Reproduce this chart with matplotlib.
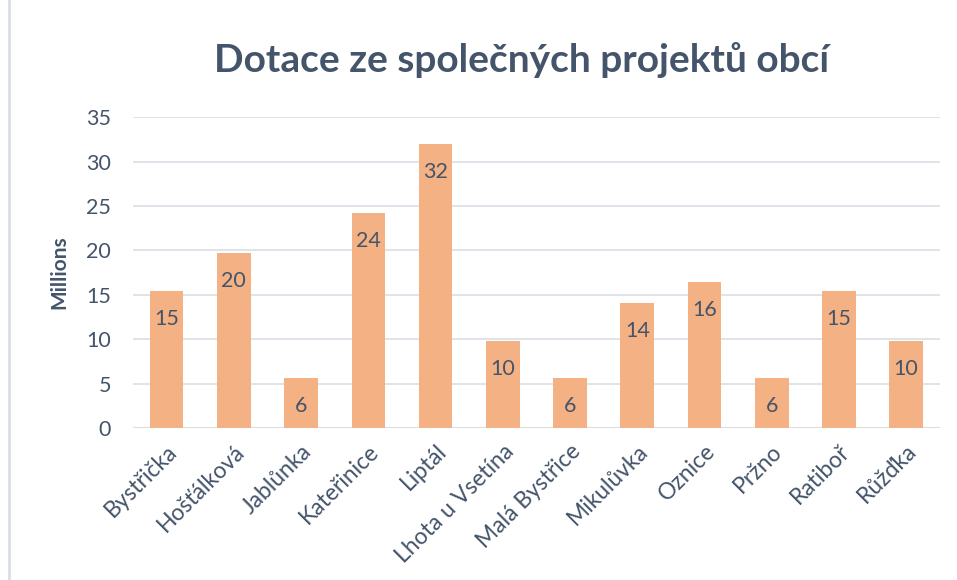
import numpy as np
import matplotlib.pyplot as plt
from matplotlib.patches import Rectangle

plt.rcParams['font.family'] = ['Lato', 'DejaVu Sans']

obce = ['Bystřička', 'Hošťálková', 'Jablůnka', 'Kateřinice', 'Liptál',
        'Lhota u Vsetína', 'Malá Bystřice', 'Mikulůvka', 'Oznice', 'Pržno',
        'Ratiboř', 'Růžďka']
dotace = [15.4, 19.7, 5.6, 24.2, 32.0, 9.8, 5.6, 14.1, 16.4, 5.6, 15.4, 9.8]
popisky = ['15', '20', '6', '24', '32', '10', '6', '14', '16', '6', '15', '10']

barva = '#F4B183'
text = '#44546A'

fig = plt.figure(figsize=(9.57, 5.8), dpi=100)
ax = fig.add_axes([0.139, 0.262, 0.843, 0.536])

x = np.arange(len(obce))
ax.bar(x, dotace, width=0.5, color=barva, zorder=2)

for xi, v, s in zip(x, dotace, popisky):
    ax.annotate(s, (xi, v), xytext=(0, -20), textcoords='offset points',
                ha='center', va='center', fontsize=15.5, color=text, zorder=3)

ax.set_ylim(0, 35)
ax.set_xlim(-0.5, len(obce) - 0.5)
ax.set_yticks(range(0, 36, 5))
ax.yaxis.grid(True, color='#D9DEE6', linewidth=1.2, zorder=0)
for s in ax.spines.values():
    s.set_visible(False)
ax.axhline(0, color='#D9DEE6', linewidth=1.5, zorder=1)
ax.tick_params(length=0, labelsize=15.5, colors=text, pad=16)
ax.tick_params(axis='x', pad=9, labelsize=16.5)
ax.set_xticks(x)
ax.set_xticklabels(obce, rotation=45, ha='right', rotation_mode='anchor')
ax.set_ylabel('Millions', fontsize=15, fontweight='bold', color=text, labelpad=12)

fig.text(0.545, 0.897, 'Dotace ze společných projektů obcí', ha='center', va='center',
         fontsize=28, fontweight='bold', color=text)

# okvir grafa
fig.patches.append(Rectangle((0.009, -0.01), 1.2, 1.2, transform=fig.transFigure,
                             fill=False, edgecolor='#D9DEE6', linewidth=2))

fig.savefig('out.png', dpi=100)
